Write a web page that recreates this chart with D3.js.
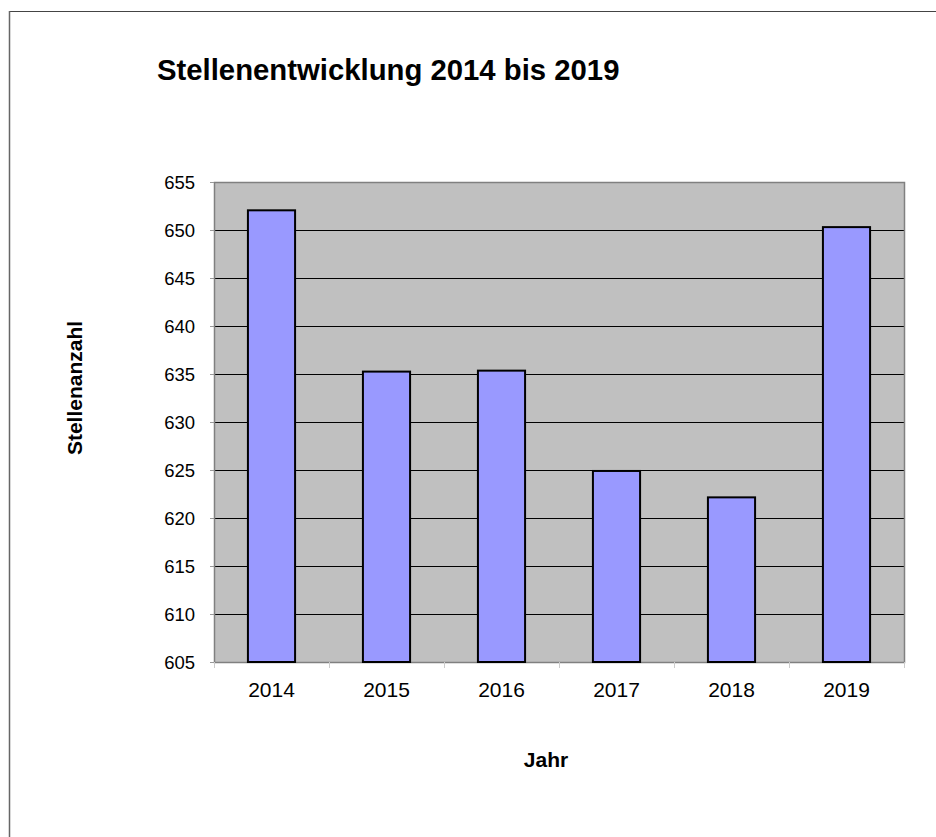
<!DOCTYPE html>
<html><head><meta charset="utf-8">
<script src="https://cdn.jsdelivr.net/npm/d3@7"></script>
<style>html,body{margin:0;background:#fff;overflow:hidden}svg{display:block}text{font-family:"Liberation Sans",Arial,sans-serif}</style>
</head><body>
<svg id="c" width="936" height="837"></svg>
<script>
const years = ["2014","2015","2016","2017","2018","2019"];
const stellen = [652.05, 635.25, 635.35, 624.9, 622.15, 650.3];
const yTicks = [605,610,615,620,625,630,635,640,645,650,655];
const title = "Stellenentwicklung 2014 bis 2019";
const yTitle = "Stellenanzahl";
const xTitle = "Jahr";

const svg = d3.select("#c");
svg.append("line").attr("x1",9).attr("x2",936).attr("y1",11.5).attr("y2",11.5).attr("stroke","#444").attr("stroke-width",1.2);
svg.append("line").attr("x1",9.5).attr("x2",9.5).attr("y1",11).attr("y2",837).attr("stroke","#666").attr("stroke-width",1.5);

const L=214, R=904, T=182, B=662;
const x = d3.scaleBand().domain(years).range([L,R]).paddingInner(0.59).paddingOuter(0.295);
const xb = d3.scaleBand().domain(years).range([L,R]);
const y = d3.scaleLinear().domain([605,655]).range([B,T]);

svg.append("rect").attr("x",L).attr("y",T).attr("width",R-L).attr("height",B-T).attr("fill","#C0C0C0");
svg.append("g").selectAll("line").data(yTicks.slice(1,-1)).join("line")
  .attr("x1",L).attr("x2",R).attr("y1",d=>Math.round(y(d))+0.5).attr("y2",d=>Math.round(y(d))+0.5)
  .attr("stroke","#000").attr("stroke-width",1);
svg.append("rect").attr("x",L+0.5).attr("y",T+0.5).attr("width",R-L).attr("height",B-T)
  .attr("fill","none").attr("stroke","#808080").attr("stroke-width",1.5);

svg.append("g").selectAll("rect").data(stellen).join("rect")
  .attr("x",(d,i)=>x(years[i])).attr("width",x.bandwidth())
  .attr("y",d=>y(d)).attr("height",d=>B-y(d))
  .attr("fill","#9999FF").attr("stroke","#000").attr("stroke-width",2);

const ya = d3.axisLeft(y).tickValues(yTicks).tickSize(4).tickPadding(15).tickFormat(d3.format("d"));
const gy = svg.append("g").attr("transform",`translate(${L},0)`).call(ya);
gy.select(".domain").remove();
gy.selectAll("line").attr("stroke","#999");
gy.selectAll("text").attr("font-size",18.5).attr("fill","#000").attr("dy","0.35em")
  .attr("font-family","Liberation Sans, Arial, sans-serif");

const gx = svg.append("g");
gx.selectAll("line").data(d3.range(years.length+1)).join("line")
  .attr("x1",i=>L+i*xb.bandwidth()+0.5).attr("x2",i=>L+i*xb.bandwidth()+0.5)
  .attr("y1",B).attr("y2",B+6).attr("stroke","#ccc");
gx.selectAll("text").data(years).join("text")
  .attr("x",d=>xb(d)+xb.bandwidth()/2).attr("y",697)
  .attr("text-anchor","middle").attr("font-size",21).text(d=>d);

svg.append("text").attr("x",157).attr("y",80).attr("font-size",29.3).attr("font-weight","bold").text(title);
svg.append("text").attr("transform","translate(82,388) rotate(-90)").attr("text-anchor","middle")
  .attr("font-size",21).attr("font-weight","bold").text(yTitle);
svg.append("text").attr("x",546).attr("y",767).attr("text-anchor","middle")
  .attr("font-size",21).attr("font-weight","bold").text(xTitle);
</script>
</body></html>
